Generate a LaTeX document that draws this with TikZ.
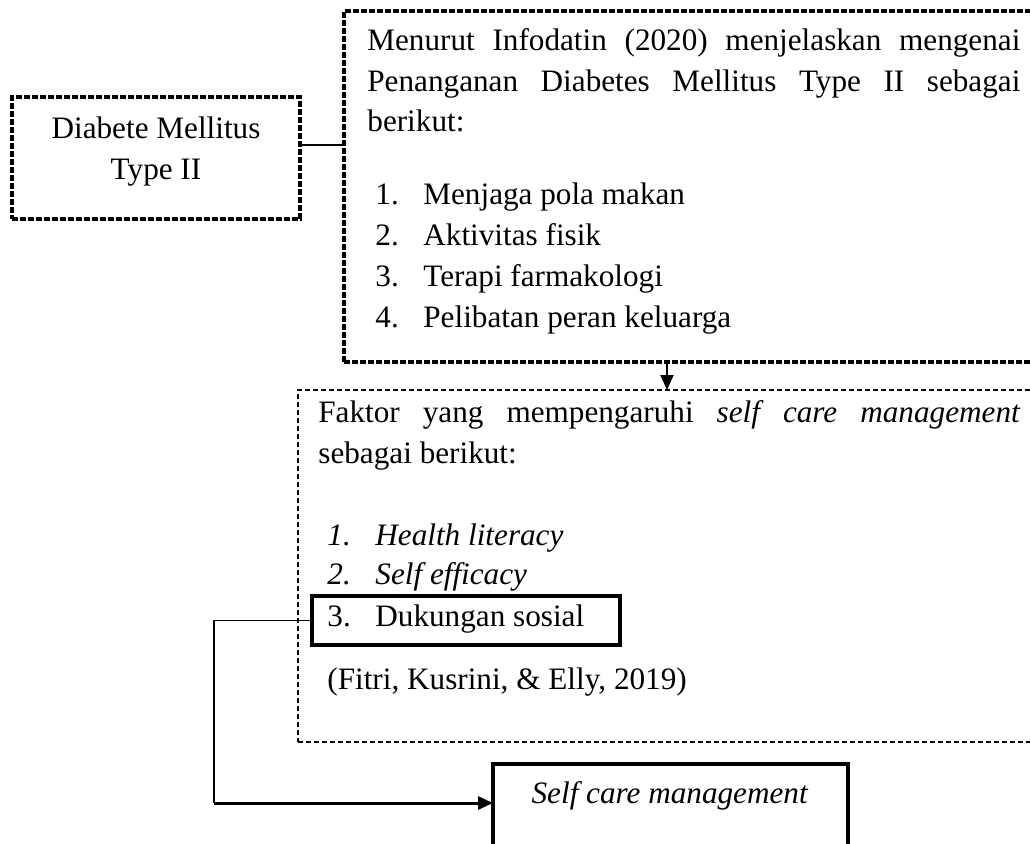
\documentclass[tikz,border=0pt]{standalone}
\usepackage{fontspec}
\setmainfont{Liberation Serif}
\usetikzlibrary{positioning,arrows.meta}

\tikzset{
  thickdash/.style={draw, line width=1.6pt, dash pattern=on 2.8pt off 1.2pt, inner sep=0pt, outer sep=0pt, anchor=north west},
  thindash/.style={draw, line width=0.7pt, dash pattern=on 2.5pt off 1.5pt, inner sep=0pt, outer sep=0pt, anchor=north west},
  solidbox/.style={draw, line width=1.7pt, inner sep=0pt, outer sep=0pt, anchor=north west},
  txt/.style={anchor=base west, inner sep=0pt},
  arr/.style={-{Triangle[length=7.5pt,width=6.5pt]}},
}

\begin{document}
\begin{tikzpicture}[x=0.5pt, y=-0.5pt, font=\fontsize{15.6}{20.5}\selectfont]
    \useasboundingbox (0,0) rectangle (1030,843);
    \clip (0,0) rectangle (1030,843);

    % boxes
    \node[thickdash, minimum width=144pt, minimum height=61pt] (diabetes) at (12,97) {};
    \node[thickdash, minimum width=348pt, minimum height=175.5pt] (penanganan) at (344,11) {};
    \node[thindash, minimum width=371pt, minimum height=176pt] (faktor) at (298,390) {};
    \node[solidbox, minimum width=154pt, minimum height=24.5pt] (sosial) at (312,596) {};
    \node[solidbox, minimum width=177.5pt, minimum height=50pt] (selfcare) at (493,764) {};

    % texts
    \node[anchor=base] (dma) at (156,138) {Diabete Mellitus};
    \node[anchor=base] (dmb) at (156,179) {Type II};

    \node[txt] (introa) at (367,50) {\makebox[326.5pt][s]{Menurut Infodatin (2020) menjelaskan mengenai}};
    \node[txt] (introb) at (367,91) {\makebox[326.5pt][s]{Penanganan Diabetes Mellitus Type II sebagai}};
    \node[txt] (introc) at (367,131) {berikut:};
    \foreach \t [count=\i, evaluate=\i as \yy using 204+41*(\i-1)] in
      {Menjaga pola makan, Aktivitas fisik, Terapi farmakologi, Pelibatan peran keluarga} {
      \node[txt] (numb\i) at (375,\yy) {\i.};
      \node[txt] (itemb\i) at (423,\yy) {\t};
    }

    \node[txt] (faktora) at (318,422) {\makebox[351pt][s]{Faktor yang mempengaruhi \textit{self care management}}};
    \node[txt] (faktorb) at (318,463) {sebagai berikut:};
    \node[txt] (numc1) at (327,545) {\textit{1.}};
    \node[txt] (itemc1) at (375,545) {\textit{Health literacy}};
    \node[txt] (numc2) at (327,584) {\textit{2.}};
    \node[txt] (itemc2) at (375,584) {\textit{Self efficacy}};
    \node[txt] (numc3) at (327,626) {3.};
    \node[txt] (itemc3) at (375,626) {Dukungan sosial};
    \node[txt] (sumber) at (327,689) {(Fitri, Kusrini, \& Elly, 2019)};

    \node[anchor=base] (sclabel) at (670,803) {\textit{Self care management}};

    % connectors
    \draw[line width=1pt] ([yshift=6.5pt]diabetes.east) -- ([yshift=6.5pt]diabetes.east -| penanganan.west);

    \coordinate (drop) at (667,0);
    \draw[line width=1pt, arr] (drop |- penanganan.south) -- (drop |- faktor.north);

    \coordinate (turn) at (214,803);
    \draw[line width=0.75pt] (sosial.west) -| (turn);
    \draw[line width=1.5pt, arr] (turn) -- (turn -| selfcare.west);
\end{tikzpicture}
\end{document}
